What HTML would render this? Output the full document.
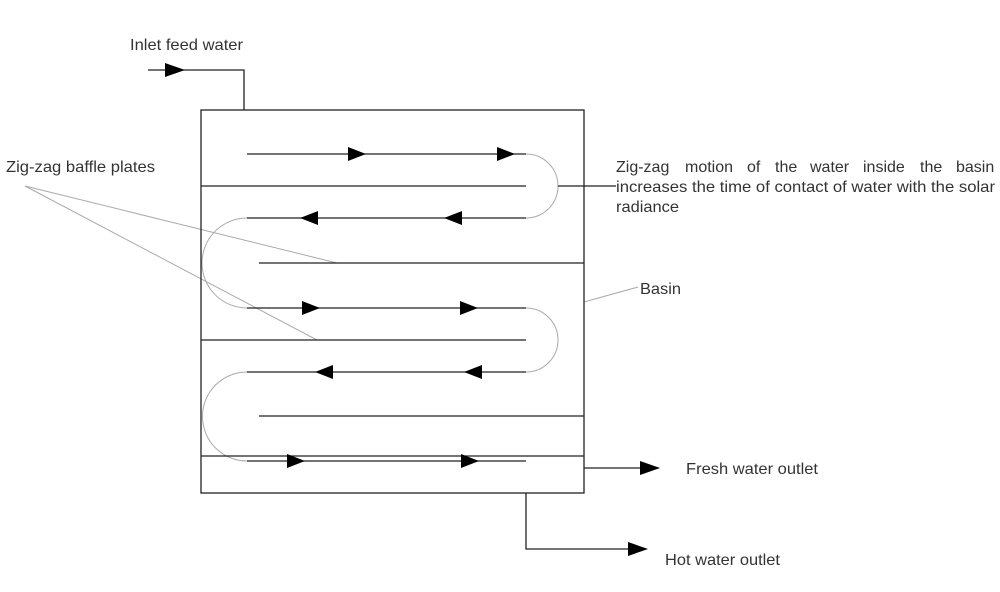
<!DOCTYPE html>
<html><head><meta charset="utf-8"><style>
body{margin:0;background:#fff;width:1000px;height:592px;overflow:hidden}
svg{display:block}
text{font-family:"Liberation Sans",Arial,sans-serif;font-size:16px;fill:#333}
</style></head><body>
<svg width="1000" height="592" viewBox="0 0 1000 592">
<g stroke="#aaa" stroke-width="1" fill="none">
<line x1="25" y1="186" x2="337" y2="263"/>
<line x1="25" y1="186" x2="317" y2="340"/>
<line x1="584" y1="302" x2="638" y2="287"/>
<path d="M526 154 A32 32 0 0 1 526 218"/>
<path d="M247 218 A45 45 0 0 0 247 308"/>
<path d="M526 308 A32 32 0 0 1 526 372"/>
<path d="M247 372 A44.5 44.5 0 0 0 247 461"/>
</g>
<g stroke="#222" stroke-width="1.3" fill="none">
<rect x="201" y="110" width="383" height="383"/>
<line x1="201" y1="186" x2="526" y2="186"/>
<line x1="259" y1="263" x2="584" y2="263"/>
<line x1="201" y1="340" x2="526" y2="340"/>
<line x1="259" y1="416" x2="584" y2="416"/>
<line x1="201" y1="456" x2="584" y2="456"/>
<line x1="247" y1="154" x2="526" y2="154"/>
<line x1="247" y1="218" x2="526" y2="218"/>
<line x1="247" y1="308" x2="526" y2="308"/>
<line x1="247" y1="372" x2="526" y2="372"/>
<line x1="247" y1="461" x2="526" y2="461"/>
<line x1="558" y1="186" x2="616" y2="186"/>
<polyline points="148,70 244,70 244,110"/>
<line x1="584" y1="468" x2="645" y2="468"/>
<polyline points="526,493 526,549 632,549"/>
</g>
<g fill="#000">
<polygon points="348,147 366,154 348,161"/>
<polygon points="497,147 515,154 497,161"/>
<polygon points="318,211 300,218 318,225"/>
<polygon points="462,211 444,218 462,225"/>
<polygon points="302,301 320,308 302,315"/>
<polygon points="460,301 478,308 460,315"/>
<polygon points="333,365 315,372 333,379"/>
<polygon points="482,365 464,372 482,379"/>
<polygon points="287,454 305,461 287,468"/>
<polygon points="461,454 479,461 461,468"/>
<polygon points="165,63 185,70 165,77"/>
<polygon points="640,461 660,468 640,475"/>
<polygon points="628,542 648,549 628,556"/>
</g>
<text x="130" y="50" textLength="113" lengthAdjust="spacingAndGlyphs">Inlet feed water</text>
<text x="6" y="172" textLength="149" lengthAdjust="spacingAndGlyphs">Zig-zag baffle plates</text>
<text y="172"><tspan x="616">Zig-zag</tspan><tspan x="685">motion</tspan><tspan x="747">of</tspan><tspan x="775">the</tspan><tspan x="810">water</tspan><tspan x="863">inside</tspan><tspan x="920">the</tspan><tspan x="956">basin</tspan></text>
<text x="616" y="192" textLength="379" lengthAdjust="spacingAndGlyphs">increases the time of contact of water with the solar</text>
<text x="616" y="212" textLength="63" lengthAdjust="spacingAndGlyphs">radiance</text>
<text x="640" y="294" textLength="41" lengthAdjust="spacingAndGlyphs">Basin</text>
<text x="686" y="474" textLength="132" lengthAdjust="spacingAndGlyphs">Fresh water outlet</text>
<text x="665" y="565" textLength="115" lengthAdjust="spacingAndGlyphs">Hot water outlet</text>
</svg>
</body></html>
